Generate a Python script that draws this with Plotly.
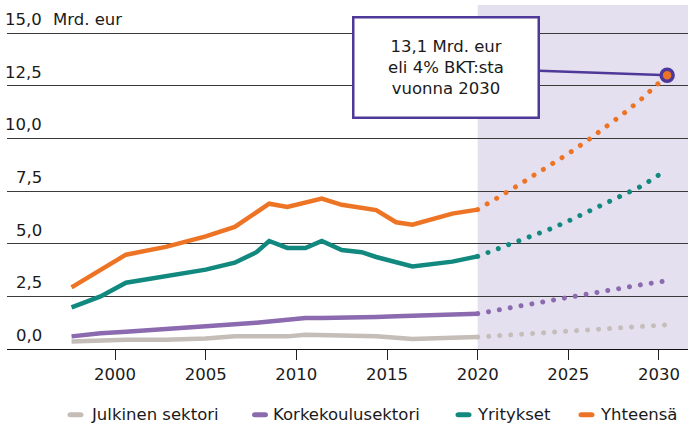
import plotly.graph_objects as go

# ---------------- data ----------------
hist_years = [1997.6, 1999.2, 2000.6, 2002.8, 2005.0, 2006.6, 2007.8, 2008.5, 2009.5,
              2010.5, 2011.4, 2012.5, 2013.6, 2014.4, 2015.5, 2016.4, 2018.6, 2020.0]
julkinen_hist = [0.36, 0.40, 0.44, 0.44, 0.50, 0.60, 0.58, 0.57, 0.60,
                 0.68, 0.67, 0.66, 0.64, 0.60, 0.53, 0.47, 0.53, 0.57]
korkeakoulu_hist = [0.60, 0.75, 0.82, 0.97, 1.10, 1.18, 1.25, 1.30, 1.37,
                    1.47, 1.47, 1.47, 1.49, 1.52, 1.55, 1.57, 1.63, 1.68]
yritykset_hist = [1.98, 2.50, 3.15, 3.45, 3.77, 4.10, 4.60, 5.13, 4.80,
                  4.80, 5.13, 4.70, 4.60, 4.37, 4.10, 3.92, 4.15, 4.40]
yhteensa_hist = [2.93, 3.77, 4.48, 4.85, 5.35, 5.80, 6.50, 6.90, 6.75,
                 6.95, 7.14, 6.85, 6.70, 6.60, 6.02, 5.90, 6.43, 6.62]

proj_years = [2020, 2021, 2022, 2023, 2024, 2025, 2026, 2027, 2028, 2029, 2030.45]
julkinen_proj = [0.57, 0.62, 0.67, 0.73, 0.79, 0.85, 0.90, 0.96, 1.01, 1.07, 1.15]
korkeakoulu_proj = [1.68, 1.82, 1.97, 2.14, 2.30, 2.45, 2.58, 2.74, 2.90, 3.05, 3.24]
yritykset_proj = [4.40, 4.71, 5.03, 5.35, 5.70, 6.08, 6.49, 6.91, 7.32, 7.72, 8.52]
yhteensa_proj = [6.62, 7.12, 7.65, 8.20, 8.73, 9.28, 9.87, 10.50, 11.15, 11.85, 13.00]

series_names = ["Julkinen sektori", "Korkeakoulusektori", "Yritykset", "Yhteensä"]
legend_labels = ["Julkinen sektori", "Korkekoulusektori", "Yritykset", "Yhteensä"]
series_colors = ["#c4bdb8", "#8b6ab0", "#12897f", "#ee7425"]

y_ticks = [0, 2.5, 5, 7.5, 10, 12.5, 15]
y_tick_labels = ["0,0", "2,5", "5,0", "7,5", "10,0", "12,5", "15,0"]
y_unit = "Mrd. eur"
x_ticks = [2000, 2005, 2010, 2015, 2020, 2025, 2030]
forecast_start = 2020

callout_text = "13,1 Mrd. eur<br>eli 4% BKT:sta<br>vuonna 2030"

# ---------------- styling ----------------
FONT = "DejaVu Sans"
TXT = "#1a1a1a"
ACCENT = "#4e3898"
SHADE = "#e4e0f0"
FS = 16.5

X_RANGE = [1994.04, 2031.6]
Y_RANGE = [0, 16.34]

fig = go.Figure()

hist = [julkinen_hist, korkeakoulu_hist, yritykset_hist, yhteensa_hist]
proj = [julkinen_proj, korkeakoulu_proj, yritykset_proj, yhteensa_proj]

for name, col, h, p in zip(series_names, series_colors, hist, proj):
    fig.add_trace(go.Scatter(x=hist_years, y=h, mode="lines", name=name,
                             line=dict(color=col, width=4.5), showlegend=False,
                             hoverinfo="skip"))
    fig.add_trace(go.Scatter(x=proj_years, y=p, mode="lines", name=name + " (ennuste)",
                             line=dict(color=col, width=5, dash="3px,8px"),
                             showlegend=False, hoverinfo="skip"))

fig.add_trace(go.Scatter(x=[proj_years[-1]], y=[yhteensa_proj[-1]], mode="markers",
                         marker=dict(size=12, color=series_colors[3],
                                     line=dict(color=ACCENT, width=3.5)),
                         showlegend=False, hoverinfo="skip", cliponaxis=False))

shapes = [dict(type="rect", xref="x", yref="paper", x0=forecast_start, x1=X_RANGE[1],
               y0=0, y1=1, fillcolor=SHADE, line=dict(width=0), layer="below")]

annotations = []
for v, lab in zip(y_ticks, y_tick_labels):
    annotations.append(dict(xref="paper", yref="y", x=0, y=v, xshift=37,
                            text=lab, showarrow=False, xanchor="right", yanchor="bottom",
                            yshift=2, font=dict(family=FONT, size=FS, color=TXT)))
annotations.append(dict(xref="paper", yref="y", x=0, y=y_ticks[-1], xshift=44,
                        text=y_unit, showarrow=False, xanchor="left", yanchor="bottom",
                        yshift=2, font=dict(family=FONT, size=FS, color=TXT)))

annotations.append(dict(xref="x", yref="y", x=proj_years[-1], y=yhteensa_proj[-1],
                        text=callout_text, showarrow=True, arrowhead=0, arrowwidth=2.5,
                        arrowcolor=ACCENT, ax=-221, ay=-8, standoff=6,
                        bgcolor="white", bordercolor=ACCENT, borderwidth=2.5, borderpad=4,
                        width=175, height=90, align="center",
                        font=dict(family=FONT, size=FS, color=TXT)))

leg_y = -0.191
PW = 681.0
swatch_px = [75.5, 260, 463.5, 586.5]
text_px = [89, 271, 475, 598]
pill = "M-5,-2.5 L5,-2.5 Q8,-2.5 8,0 Q8,2.5 5,2.5 L-5,2.5 Q-8,2.5 -8,0 Q-8,-2.5 -5,-2.5 Z"
for lab, col, sx, tx in zip(legend_labels, series_colors, swatch_px, text_px):
    shapes.append(dict(type="path", xref="paper", yref="paper",
                       xsizemode="pixel", ysizemode="pixel",
                       xanchor=(sx - 7) / PW, yanchor=leg_y, path=pill,
                       fillcolor=col, line=dict(width=0)))
    annotations.append(dict(xref="paper", yref="paper", x=(tx - 7) / PW, y=leg_y,
                            text=lab, showarrow=False, xanchor="left", yanchor="middle",
                            font=dict(family=FONT, size=FS, color=TXT)))

fig.update_layout(
    width=688, height=425,
    margin=dict(l=7, r=0, t=5, b=76),
    paper_bgcolor="white", plot_bgcolor="white",
    font=dict(family=FONT, size=FS, color=TXT),
    shapes=shapes, annotations=annotations,
    xaxis=dict(range=X_RANGE, tickvals=x_ticks, ticktext=[str(t) for t in x_ticks],
               showgrid=False, zeroline=False, showline=False,
               ticks="outside", ticklen=10, tickwidth=1, tickcolor="#222",
               tickfont=dict(family=FONT, size=FS, color=TXT), fixedrange=True),
    yaxis=dict(range=Y_RANGE, tickvals=y_ticks, showticklabels=False,
               showgrid=True, gridcolor="#3a3a3a", gridwidth=1,
               zeroline=True, zerolinecolor="#111", zerolinewidth=1.2,
               showline=False, fixedrange=True),
    showlegend=False,
)

post_js = """
document.body.style.margin = '0';
document.body.style.padding = '0';
document.body.style.overflow = 'hidden';
var gd = document.getElementById('{plot_id}');
gd.querySelectorAll('.scatterlayer path.js-line').forEach(function(p) {
  var d = p.style.strokeDasharray || p.getAttribute('stroke-dasharray');
  if (d && d !== 'none' && d !== '') {
    p.style.strokeLinecap = 'round';
    p.style.strokeDasharray = '0.01px, 11px';
  }
});
"""

fig.write_html("out.html", post_script=post_js, config={"displayModeBar": False})
